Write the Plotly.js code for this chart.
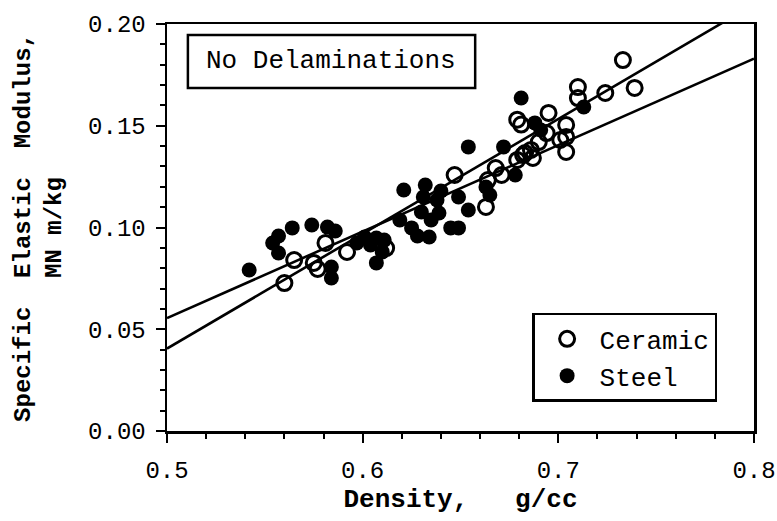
<!DOCTYPE html>
<html>
<head>
<meta charset="utf-8">
<script src="https://cdn.plot.ly/plotly-3.0.1.min.js"></script>
<style>
  html, body { margin: 0; padding: 0; background: #fff; }
  #chart { width: 777px; height: 521px; }
</style>
</head>
<body>
<div id="chart"></div>
<script>
// Specific elastic modulus vs density, specimens without delaminations
const ceramicDensity = [0.560, 0.565, 0.575, 0.577, 0.581, 0.592, 0.612, 0.647, 0.663, 0.664,
  0.668, 0.671, 0.679, 0.683, 0.679, 0.681, 0.686, 0.682, 0.687, 0.690, 0.694, 0.695, 0.701,
  0.704, 0.704, 0.704, 0.710, 0.710, 0.724, 0.733, 0.739];
const ceramicModulus = [0.0727, 0.0840, 0.0826, 0.0796, 0.0924, 0.0880, 0.0899, 0.1258, 0.1101, 0.1233,
  0.1292, 0.1258, 0.1332, 0.1366, 0.1530, 0.1506, 0.1381, 0.1356, 0.1342, 0.1420, 0.1464, 0.1563, 0.1430,
  0.1504, 0.1445, 0.1371, 0.1690, 0.1636, 0.1661, 0.1823, 0.1686];

const steelDensity = [0.542, 0.554, 0.557, 0.564, 0.557, 0.574, 0.582, 0.586, 0.584, 0.584,
  0.597, 0.601, 0.607, 0.607, 0.604, 0.611, 0.610, 0.619, 0.621, 0.625, 0.628, 0.630, 0.632,
  0.631, 0.634, 0.635, 0.638, 0.639, 0.640, 0.645, 0.649, 0.654, 0.654, 0.649, 0.663, 0.665,
  0.672, 0.678, 0.681, 0.688, 0.691, 0.713];
const steelModulus = [0.0791, 0.0924, 0.0958, 0.0998, 0.0875, 0.1012, 0.1002, 0.0983, 0.0806, 0.0752,
  0.0924, 0.0953, 0.0948, 0.0826, 0.0914, 0.0938, 0.0880, 0.1037, 0.1184, 0.0998, 0.0958, 0.1076, 0.1209,
  0.1150, 0.0953, 0.1037, 0.1135, 0.1071, 0.1179, 0.0998, 0.0998, 0.1396, 0.1086, 0.1150, 0.1199, 0.1160,
  0.1396, 0.1258, 0.1636, 0.1514, 0.1479, 0.1592];

// Least-squares fit lines, end points across the density range
const fitDensity = [0.5, 0.8];
const ceramicFit = [0.0405, 0.2097];
const steelFit = [0.0555, 0.183];

const xTicks = [0.5, 0.6, 0.7, 0.8];
const yTicks = [0.00, 0.05, 0.10, 0.15, 0.20];

const MONO = '"Liberation Mono", "Courier New", monospace';
const NB = '\u00A0';

const traces = [
  {
    x: steelDensity, y: steelModulus, type: 'scatter', mode: 'markers', name: 'Steel',
    marker: { symbol: 'circle', size: 15, color: '#000', line: { width: 0 } }
  },
  {
    x: ceramicDensity, y: ceramicModulus, type: 'scatter', mode: 'markers', name: 'Ceramic',
    marker: { symbol: 'circle-open', size: 15, color: '#000', line: { width: 3, color: '#000' } }
  },
  {
    x: fitDensity, y: ceramicFit, type: 'scatter', mode: 'lines', showlegend: false,
    line: { color: '#000', width: 2.6 }, hoverinfo: 'skip'
  },
  {
    x: fitDensity, y: steelFit, type: 'scatter', mode: 'lines', showlegend: false,
    line: { color: '#000', width: 2.6 }, hoverinfo: 'skip'
  }
];

const layout = {
  width: 777, height: 521,
  margin: { l: 167, r: 23, t: 24, b: 90 },
  paper_bgcolor: '#fff', plot_bgcolor: '#fff',
  font: { family: MONO, color: '#000', size: 24 },
  showlegend: true,
  legend: {
    x: 0.622, y: 0.29, xanchor: 'left', yanchor: 'top',
    bgcolor: '#fff', bordercolor: '#000', borderwidth: 2.5,
    traceorder: 'reversed', itemwidth: 55,
    font: { family: MONO, size: 26, color: '#000' }
  },
  xaxis: {
    range: [0.5, 0.8], tickvals: xTicks, ticktext: xTicks.map(v => v.toFixed(1)),
    ticks: 'outside', ticklen: 9, tickwidth: 2, tickcolor: '#000',
    minor: { dtick: 0.02, ticks: 'outside', ticklen: 5, tickwidth: 2, tickcolor: '#000' },
    showline: true, linewidth: 2.5, linecolor: '#000', mirror: true,
    showgrid: false, zeroline: false, ticklabeloverflow: 'allow', ticklabelstandoff: 7,
    tickfont: { family: MONO, size: 24, color: '#000' },
    title: { text: 'Density,' + NB + NB + NB + 'g/cc', standoff: 4,
      font: { family: MONO, size: 26, color: '#000', weight: 'bold' } }
  },
  yaxis: {
    range: [0, 0.2], tickvals: yTicks, ticktext: yTicks.map(v => v.toFixed(2)),
    ticks: 'outside', ticklen: 9, tickwidth: 2, tickcolor: '#000',
    minor: { dtick: 0.01, ticks: 'outside', ticklen: 5, tickwidth: 2, tickcolor: '#000' },
    showline: true, linewidth: 2.5, linecolor: '#000', mirror: true,
    showgrid: false, zeroline: false, ticklabelstandoff: 5,
    tickfont: { family: MONO, size: 24, color: '#000' },
    title: { text: 'Specific' + NB + NB + 'Elastic' + NB + NB + 'Modulus,<br>MN m/kg', standoff: 20,
      font: { family: MONO, size: 24, color: '#000', weight: 'bold' } }
  },
  shapes: [
    { type: 'rect', xref: 'paper', yref: 'paper', x0: 0.0356, x1: 0.525, y0: 0.843, y1: 0.973,
      line: { color: '#000', width: 2.5 }, fillcolor: 'rgba(0,0,0,0)' }
  ],
  annotations: [
    { xref: 'paper', yref: 'paper', x: 0.28, y: 0.909, xanchor: 'center', yanchor: 'middle',
      text: 'No Delaminations', showarrow: false,
      font: { family: MONO, size: 26, color: '#000' } }
  ]
};

Plotly.newPlot('chart', traces, layout, { staticPlot: true, displayModeBar: false });
</script>
</body>
</html>
